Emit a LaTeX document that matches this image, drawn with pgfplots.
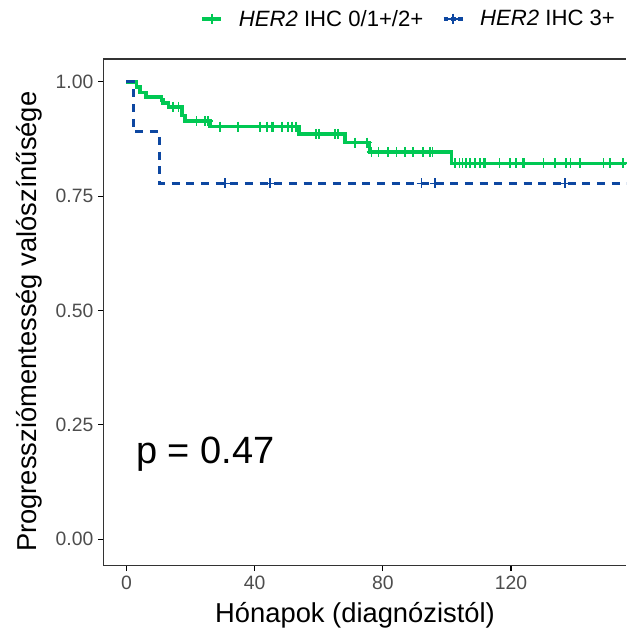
\documentclass[border=0pt]{standalone}
\usepackage{pgfplots}
\pgfplotsset{compat=1.18}
\usepackage{fontspec}
\setmainfont{Liberation Sans}
\definecolor{gcol}{HTML}{00C853}
\definecolor{bcol}{HTML}{0D47A1}
\definecolor{axcol}{HTML}{333333}
\definecolor{tickcol}{HTML}{4D4D4D}
\begin{document}
\begin{tikzpicture}
\useasboundingbox (-77.5pt,-49.7pt) rectangle (392pt,424.25pt);
\begin{axis}[
  at={(0,0)}, anchor=south west,
  scale only axis, width=392pt, height=380pt,
  xmin=-7.2, xmax=155.9, ymin=-0.058, ymax=1.05,
  axis x line*=box, axis y line*=left,
  xtick pos=bottom,
  xtick={0,40,80,120}, ytick={0,0.25,0.5,0.75,1},
  yticklabels={0.00,0.25,0.50,0.75,1.00},
  tick align=outside, major tick length=4pt,
  tick style={black, line width=0.9pt},
  axis line style={axcol, line width=0.9pt},
  ticklabel style={font=\fontsize{14.5}{17}\selectfont, text=tickcol},
  /pgf/number format/assume math mode=true,
  xlabel={Hónapok (diagnózistól)},
  ylabel={Progressziómentesség valószínűsége},
  label style={font=\fontsize{20.5}{24}\selectfont},
  xlabel style={at={(axis description cs:0.4815,0)}, anchor=north, yshift=-24pt},
  ylabel style={at={(axis description cs:0,0.4815)}, anchor=south, yshift=42pt},
  legend style={at={(axis description cs:0.992,1)}, anchor=south east, yshift=19pt,
    draw=none, fill=none, legend columns=2,
    font=\fontsize{16.6}{19}\selectfont,
    /tikz/every odd column/.append style={column sep=10pt},
    /tikz/every even column/.append style={column sep=12pt}},
  legend image code/.code={\draw[mark repeat=2, mark phase=2, #1] plot coordinates {(0cm,0cm) (0.25cm,0cm) (0.5cm,0cm)};},
  legend cell align=left,
  clip=true,
]
\addlegendimage{gcol, line width=2.4pt, mark=+, mark size=4pt, mark options={line width=1.2pt}}
\addlegendentry{\textit{HER2} IHC 0/1+/2+}
\addlegendimage{bcol, line width=2.4pt, dash pattern=on 3.5pt off 2pt, mark=+, mark size=4pt, mark options={solid, line width=1.2pt}}
\addlegendentry{\textit{HER2} IHC 3+}

\addplot[gcol, line width=2.6pt, const plot, forget plot] coordinates {
(0,1) (3.2,0.989) (4.2,0.977) (6.1,0.967) (11.0,0.960) (11.4,0.954) (13.1,0.945)
(17.3,0.927) (18.3,0.914) (26.1,0.902) (53.9,0.886) (68.2,0.867) (75.8,0.847)
(101.5,0.822) (160,0.822)};
\addplot[gcol, only marks, mark=+, mark size=3.8pt, mark options={line width=1.2pt}, forget plot] coordinates {
(14.6,0.945) (16.2,0.945)
(21.9,0.914) (24.5,0.914) (25.5,0.914)
(29.2,0.902) (34.9,0.902) (41.7,0.902) (43.8,0.902) (45.3,0.902) (45.8,0.902) (48.5,0.902) (50.5,0.902) (51.6,0.902) (52.9,0.902)
(59.2,0.886) (60.1,0.886) (65.1,0.886) (66.1,0.886)
(71.3,0.867) (75.0,0.867)
(76.5,0.847) (78.6,0.847) (81.7,0.847) (84.3,0.847) (86.9,0.847) (89.5,0.847) (92.6,0.847) (94.7,0.847) (95.5,0.847)
(102.5,0.822) (103.9,0.822) (104.9,0.822) (106.0,0.822) (107.2,0.822) (108.8,0.822) (110.4,0.822) (111.6,0.822) (111.9,0.822)
(116.4,0.822) (119.7,0.822) (121.6,0.822) (123.8,0.822) (124.1,0.822) (130.1,0.822) (133.7,0.822) (137.1,0.822) (138.6,0.822)
(141.5,0.822) (148.8,0.822) (150.9,0.822) (154.9,0.822)};
\addplot[bcol, line width=2.4pt, const plot, dash pattern=on 6pt off 5pt, forget plot] coordinates {
(0,1) (2.2,0.891) (10.3,0.778) (160,0.778)};
\addplot[bcol, only marks, mark=+, mark size=3.8pt, mark options={line width=1.2pt}, forget plot] coordinates {
(30.8,0.778) (44.8,0.778) (92.1,0.778) (96.3,0.778) (136.9,0.778)};
\node[anchor=base west, inner sep=0pt, font=\fontsize{28.5}{31}\selectfont] at (axis cs:3.0,0.166) {p = 0.47};
\end{axis}
\end{tikzpicture}
\end{document}
